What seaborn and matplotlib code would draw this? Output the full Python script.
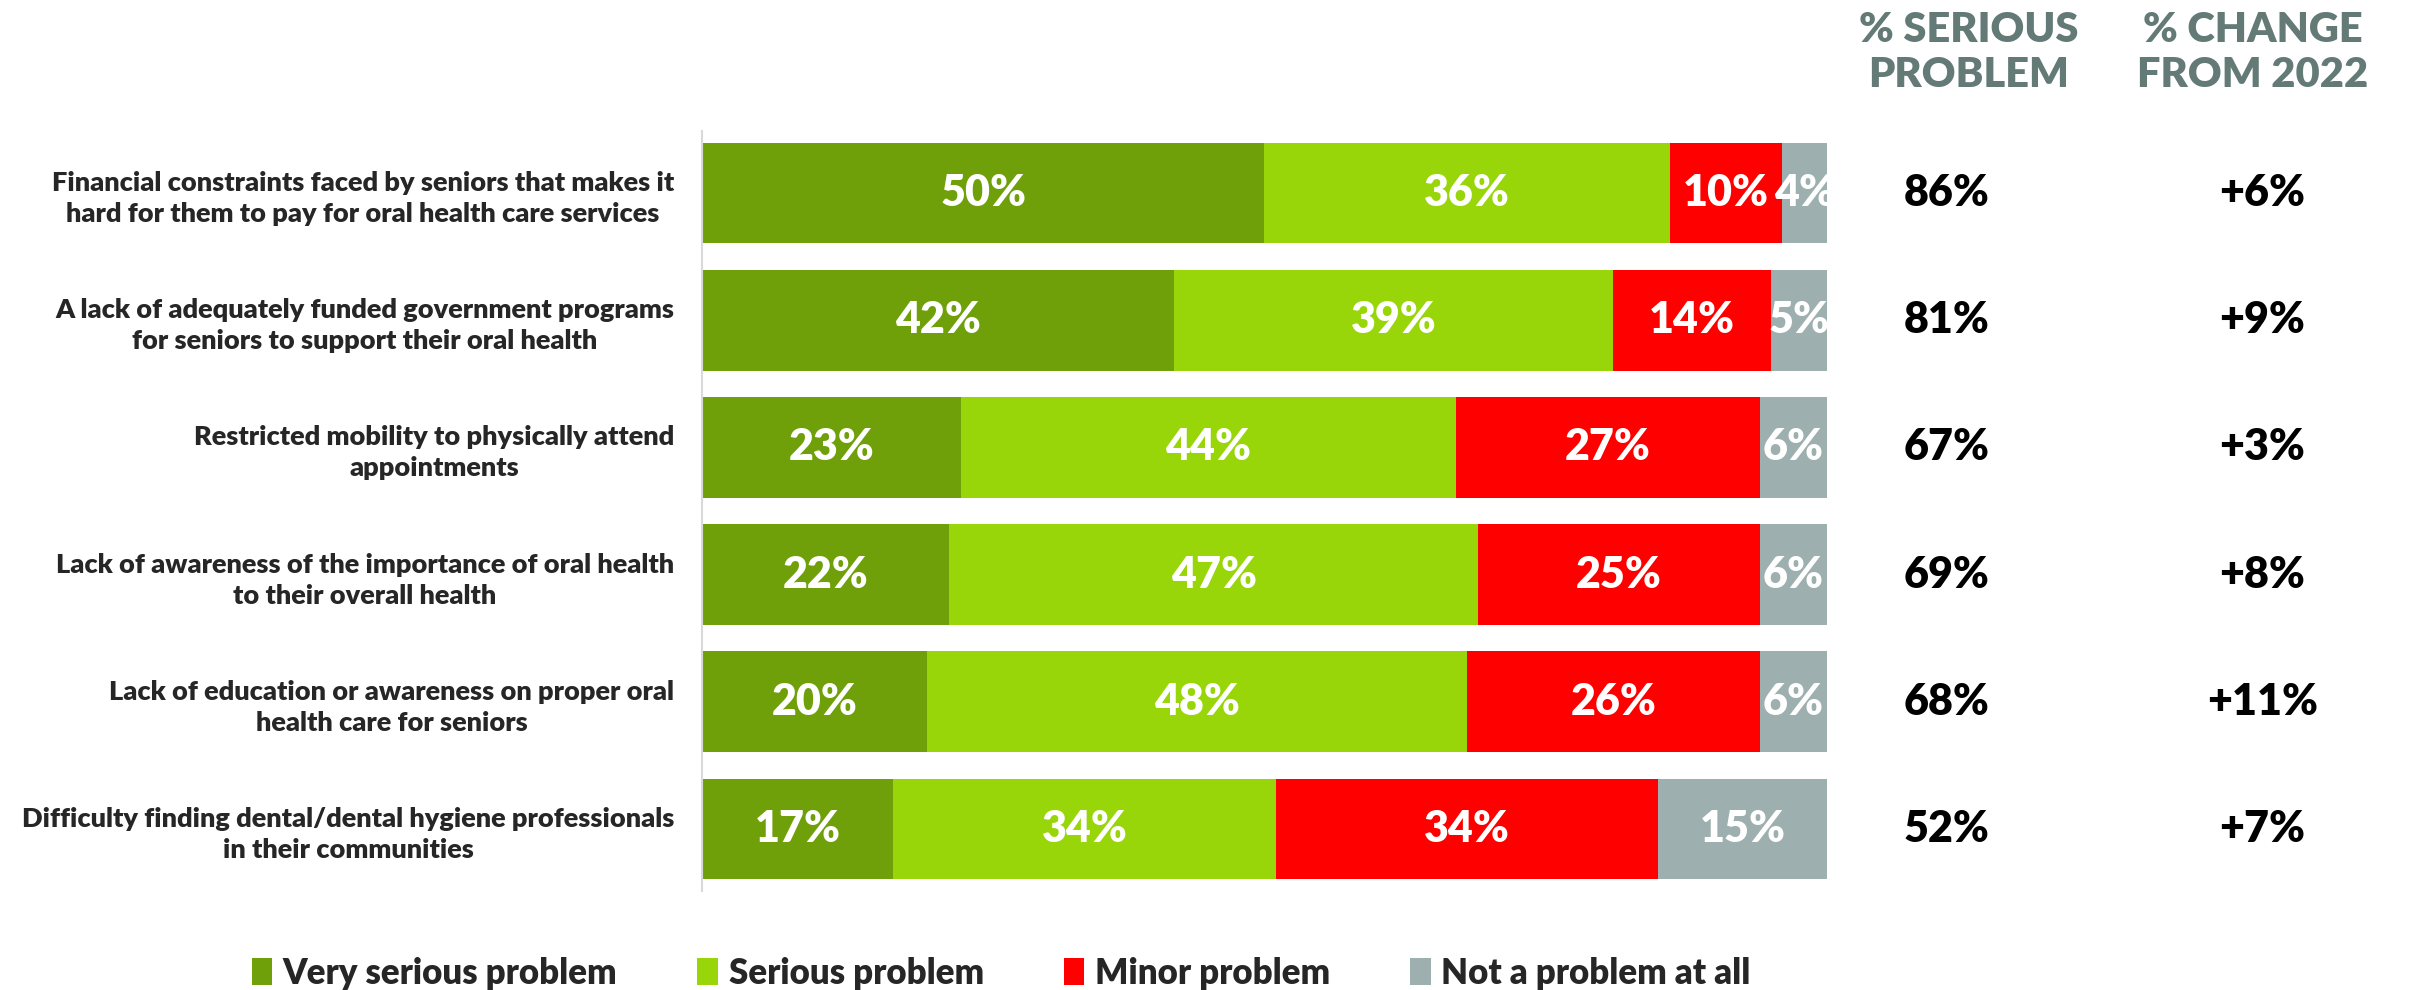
import matplotlib
matplotlib.use('Agg')

import numpy as np
import pandas as pd
import seaborn as sns
import matplotlib.pyplot as plt
from matplotlib.patches import Patch

issues = [
    "Financial constraints faced by seniors that makes it\nhard for them to pay for oral health care services",
    "A lack of adequately funded government programs\nfor seniors to support their oral health",
    "Restricted mobility to physically attend\nappointments",
    "Lack of awareness of the importance of oral health\nto their overall health",
    "Lack of education or awareness on proper oral\nhealth care for seniors",
    "Difficulty finding dental/dental hygiene professionals\nin their communities",
]
very_serious = [50, 42, 23, 22, 20, 17]
serious = [36, 39, 44, 47, 48, 34]
minor = [10, 14, 27, 25, 26, 34]
not_problem = [4, 5, 6, 6, 6, 15]
pct_serious = ["86%", "81%", "67%", "69%", "68%", "52%"]
change_2022 = ["+6%", "+9%", "+3%", "+8%", "+11%", "+7%"]

series_names = ["Very serious problem", "Serious problem", "Minor problem", "Not a problem at all"]
colors = ["#6fa00a", "#98d60a", "#ff0000", "#9dafae"]
header_color = "#637a77"
W = 'heavy'

sns.set_style("white")
plt.rcParams['font.family'] = ['Lato', 'DejaVu Sans']
plt.rcParams['font.weight'] = W

df = pd.DataFrame({
    "issue": issues,
    "very": very_serious,
    "serious": serious,
    "minor": minor,
    "not": not_problem,
})
parts = ["very", "serious", "minor", "not"]
cum = df[parts].cumsum(axis=1)

fig = plt.figure(figsize=(24.18, 9.9), dpi=100)
ax = fig.add_axes([0.2903, 0.10, 0.4653, 0.7677])

# stacked bars: draw cumulative totals from the longest down
for p, c in reversed(list(zip(parts, colors))):
    sns.barplot(x=cum[p], y=df["issue"], color=c, width=0.79, saturation=1,
                orient="h", linewidth=0, ax=ax)

ax.set_xlim(0, 100)
ax.set_ylim(5.49, -0.49)
ax.set_xlabel("")
ax.set_ylabel("")
ax.set_xticks([])
sns.despine(ax=ax, top=True, right=True, bottom=True, left=False)
ax.spines['left'].set_color('#d9d9d9')
ax.spines['left'].set_linewidth(1.5)
ax.tick_params(axis='y', length=0, pad=20, labelsize=19.5)
for t in ax.get_yticklabels():
    t.set_multialignment('center')
    t.set_fontweight(W)
    t.set_linespacing(1.35)

# segment labels
for i in range(len(df)):
    left = 0
    for p in parts:
        v = df.loc[i, p]
        ax.text(left + v / 2, i, f"{v}%", ha='center', va='center',
                color='white', fontsize=31, fontweight=W, clip_on=False, zorder=5)
        left += v
    ax.text(110.6, i, pct_serious[i], ha='center', va='center', color='black',
            fontsize=31, fontweight=W, clip_on=False)
    ax.text(138.7, i, change_2022[i], ha='center', va='center', color='black',
            fontsize=31, fontweight=W, clip_on=False)

fig.text(0.8143, 0.947, "% SERIOUS\nPROBLEM", ha='center', va='center',
         color=header_color, fontsize=30, fontweight=W, linespacing=1.22)
fig.text(0.9318, 0.947, "% CHANGE\nFROM 2022", ha='center', va='center',
         color=header_color, fontsize=30, fontweight=W, linespacing=1.22)

handles = [Patch(facecolor=c, edgecolor='none', label=n) for n, c in zip(series_names, colors)]
fig.legend(handles=handles, loc='center', bbox_to_anchor=(0.414, 0.017), ncol=4,
           frameon=False, handlelength=0.6, handleheight=0.85,
           handletextpad=0.3, columnspacing=2.3, prop={'weight': W, 'size': 25})

fig.savefig("out.png", dpi=100)
